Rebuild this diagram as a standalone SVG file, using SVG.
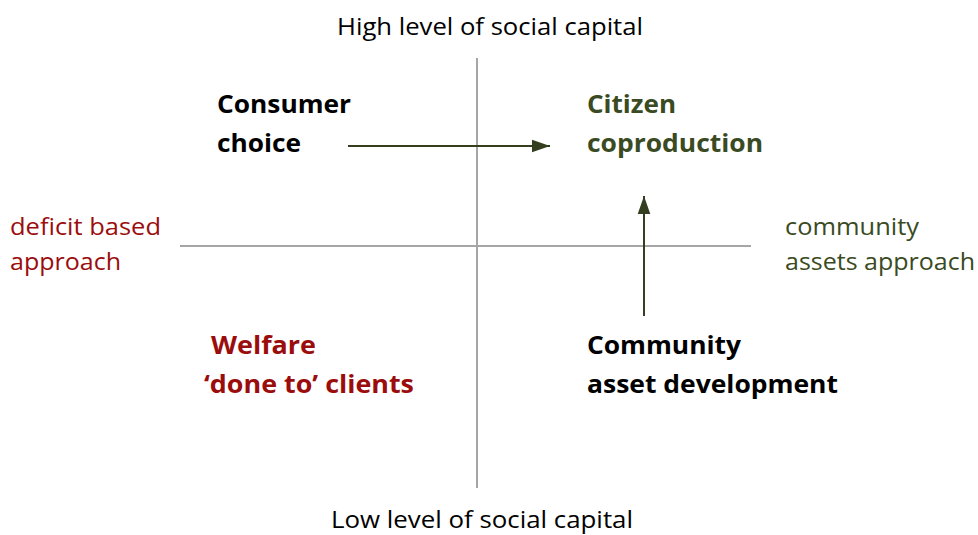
<svg xmlns="http://www.w3.org/2000/svg" width="978" height="535" viewBox="0 0 978 535">
  <style>
    .axis { stroke: #a6a6a6; stroke-width: 2; fill: none; }
    .flow { stroke: #333f1e; stroke-width: 2; fill: none; }
    .lbl { font-family: "Open Sans", "Liberation Sans", sans-serif; font-size: 23px; }
    .node { font-family: "Open Sans", "Liberation Sans", sans-serif; font-size: 25px; font-weight: bold; }
    .red { fill: #9b0d0d; }
    .olive { fill: #3a4a22; }
    .black { fill: #000000; }
  </style>
  <defs>
    <marker id="arrowhead" viewBox="0 0 10 10" refX="10" refY="5" markerWidth="9" markerHeight="9" markerUnits="userSpaceOnUse" orient="auto">
      <path d="M0,0 L10,5 L0,10 z" fill="#333f1e"/>
    </marker>
    <marker id="arrowhead-lg" viewBox="0 0 10 10" refX="10" refY="5" markerWidth="18" markerHeight="18" markerUnits="userSpaceOnUse" orient="auto">
      <path d="M0,1.5 L10,5 L0,8.5 z" fill="#333f1e"/>
    </marker>
  </defs>

  <rect width="978" height="535" fill="#ffffff"/>

  <!-- quadrant axes -->
  <g id="axes">
    <line class="axis" x1="477" y1="58" x2="477" y2="488"/>
    <line class="axis" x1="180" y1="246" x2="751" y2="246"/>
  </g>

  <!-- axis labels -->
  <g id="axis-labels">
    <text class="lbl black" x="337" y="35" textLength="306" lengthAdjust="spacingAndGlyphs">High level of social capital</text>
    <text class="lbl black" x="331" y="528" textLength="302" lengthAdjust="spacingAndGlyphs">Low level of social capital</text>
    <text class="lbl red" x="10" y="235" textLength="151" lengthAdjust="spacingAndGlyphs">deficit based</text>
    <text class="lbl red" x="10" y="270" textLength="111" lengthAdjust="spacingAndGlyphs">approach</text>
    <text class="lbl olive" x="785" y="235" textLength="134" lengthAdjust="spacingAndGlyphs">community</text>
    <text class="lbl olive" x="785" y="270" textLength="190" lengthAdjust="spacingAndGlyphs">assets approach</text>
  </g>

  <!-- quadrant nodes -->
  <g id="consumer-choice">
    <text class="node black" x="217" y="113" textLength="134" lengthAdjust="spacingAndGlyphs">Consumer</text>
    <text class="node black" x="217" y="152" textLength="84" lengthAdjust="spacingAndGlyphs">choice</text>
  </g>
  <g id="citizen-coproduction">
    <text class="node olive" x="587" y="113" textLength="89" lengthAdjust="spacingAndGlyphs">Citizen</text>
    <text class="node olive" x="587" y="152" textLength="176" lengthAdjust="spacingAndGlyphs">coproduction</text>
  </g>
  <g id="welfare">
    <text class="node red" x="211" y="354" textLength="105" lengthAdjust="spacingAndGlyphs">Welfare</text>
    <text class="node red" x="204" y="393" textLength="210" lengthAdjust="spacingAndGlyphs">‘done to’ clients</text>
  </g>
  <g id="community-asset-development">
    <text class="node black" x="587" y="354" textLength="154" lengthAdjust="spacingAndGlyphs">Community</text>
    <text class="node black" x="587" y="393" textLength="251" lengthAdjust="spacingAndGlyphs">asset development</text>
  </g>

  <!-- connectors -->
  <g id="connectors">
    <line class="flow" x1="348" y1="146" x2="550" y2="146" marker-end="url(#arrowhead-lg)"/>
    <line class="flow" x1="644" y1="316" x2="644" y2="196" marker-end="url(#arrowhead-lg)"/>
  </g>
</svg>
